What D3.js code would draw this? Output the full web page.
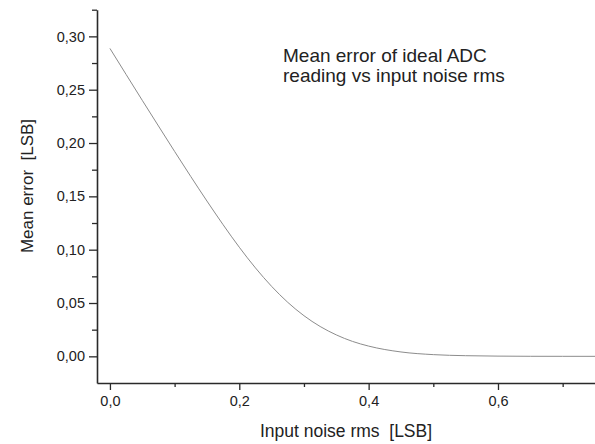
<!DOCTYPE html>
<html><head><meta charset="utf-8">
<script src="https://cdn.jsdelivr.net/npm/d3@7"></script>
<style>
body{margin:0;background:#fff;}
svg{display:block;font-family:Arial,"Liberation Sans",sans-serif;}
text{white-space:pre;}
</style></head>
<body><svg id="c" width="595" height="444"></svg>
<script>
// data
const noiseRms = [0,0.025,0.05,0.075,0.1,0.125,0.15,0.175,0.2,0.225,0.25,0.275,0.3,0.325,0.35,0.375,0.4,0.45,0.5,0.55,0.6,0.65,0.7,0.75];
const meanError = [0.2887,0.2643,0.2400,0.2160,0.1921,0.1686,0.1456,0.1234,0.1023,0.0829,0.0656,0.0506,0.0381,0.0280,0.0201,0.0140,0.0096,0.0041,0.0016,0.0006,0.0002,0.00005,0.00001,0.0];
const xMajorTicks = [0,0.2,0.4,0.6];
const xMinorTicks = [0.1,0.3,0.5,0.7];
const yMajorTicks = [0,0.05,0.10,0.15,0.20,0.25,0.30];
const yMinorTicks = [0.025,0.075,0.125,0.175,0.225,0.275,0.325];
const titleLines = ["Mean error of ideal ADC","reading vs input noise rms"];
const xTitle = "Input noise rms  [LSB]";
const yTitle = "Mean error  [LSB]";

const svg = d3.select("#c");
const x = d3.scaleLinear().domain([-0.02,0.75]).range([97,595]);
const y = d3.scaleLinear().domain([-0.025,0.325]).range([383,9.7]);
const fmtX = v => d3.format(".1f")(v).replace(".",",");
const fmtY = v => d3.format(".2f")(v).replace(".",",");
const axisCol = "#2a2a2a";

// curve
const pts = noiseRms.map((v,i)=>[v,meanError[i]]);
svg.append("path").datum(pts)
  .attr("fill","none").attr("stroke","#8c8c8c").attr("stroke-width",1)
  .attr("d", d3.line().x(d=>x(d[0])).y(d=>y(d[1])).curve(d3.curveMonotoneX));

// x axis
const gx = svg.append("g").attr("transform","translate(0,383)");
gx.call(d3.axisBottom(x).tickValues(xMajorTicks).tickFormat(fmtX).tickSize(7).tickPadding(6).tickSizeOuter(0));
const gx2 = svg.append("g").attr("transform","translate(0,383)");
gx2.call(d3.axisBottom(x).tickValues(xMinorTicks).tickFormat("").tickSize(4).tickSizeOuter(0));
gx2.select(".domain").remove();
// y axis
const gy = svg.append("g").attr("transform","translate(97,0)");
gy.call(d3.axisLeft(y).tickValues(yMajorTicks).tickFormat(fmtY).tickSize(8).tickPadding(4).tickSizeOuter(0));
const gy2 = svg.append("g").attr("transform","translate(97,0)");
gy2.call(d3.axisLeft(y).tickValues(yMinorTicks).tickFormat("").tickSize(5).tickSizeOuter(0));
gy2.select(".domain").remove();

svg.selectAll(".domain").attr("stroke",axisCol).attr("stroke-width",1.6);
svg.selectAll(".tick line").attr("stroke",axisCol).attr("stroke-width",1.3);
svg.selectAll("g").attr("font-size",null).attr("font-family",null);
svg.selectAll(".tick text").attr("fill","#222").style("font-size","14.5px");

// axis titles
svg.append("text").attr("x",346).attr("y",437).attr("text-anchor","middle")
  .style("font-size","17.5px").attr("fill","#222").text(xTitle);
svg.append("text").attr("transform","translate(33,186) rotate(-90)").attr("text-anchor","middle")
  .style("font-size","17px").attr("fill","#222").text(yTitle);

// annotation
svg.selectAll(".ann").data(titleLines).enter().append("text")
  .attr("x",283).attr("y",(d,i)=>61.5+i*20.5)
  .style("font-size","19px").attr("fill","#222").text(d=>d);
</script></body></html>
